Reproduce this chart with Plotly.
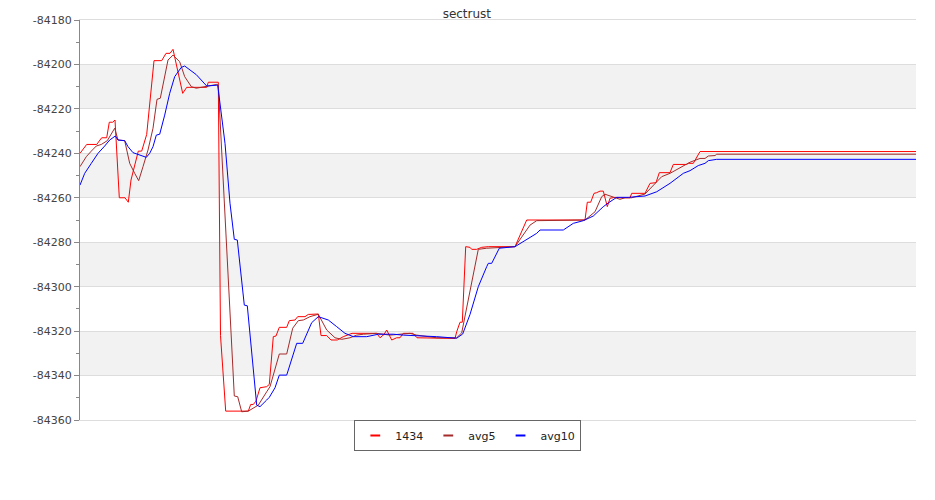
import plotly.graph_objects as go

# x positions are sample positions along the (unlabelled) time axis
t_raw = [0, 6.7, 16.7, 21.7, 26.7, 29.3, 32.7, 35, 39.3, 45, 48.3, 51, 58.3, 61.7, 66.7, 74, 81.7, 86, 90, 93,
         102.7, 106.7, 126.7, 128.3, 138.3, 140.5, 145.7, 168.3, 170.7, 173.3, 176, 180, 186.7, 189.3, 193.3, 196,
         199.3, 206.7, 209.3, 215, 217.7, 225, 228.3, 238.3, 241, 246.7, 251, 257.3, 263.3, 272, 296.7, 300, 304,
         306.7, 311.7, 316.7, 320, 323.3, 333, 337, 375, 376.7, 380, 382.3, 385.7, 390, 391.7, 396.7, 401.7, 408.3,
         435, 446.7, 505, 507.3, 510.7, 514, 516.7, 520, 523.3, 526, 527.3, 530, 535, 540, 550, 551.7, 565, 570,
         576, 579.3, 590, 593.3, 606.7, 608.3, 613.3, 620, 836]
v_raw = [-84240, -84236, -84236, -84233, -84233, -84226, -84226, -84225, -84260, -84260, -84262, -84252, -84239,
         -84239, -84231.5, -84198.3, -84198.3, -84195, -84195, -84193.2, -84213, -84210.3, -84210.3, -84208, -84208,
         -84322, -84356, -84356, -84353, -84353, -84351.5, -84345.5, -84345, -84344, -84322.5, -84322.2, -84318.3,
         -84318.3, -84315.3, -84315, -84313.5, -84313.5, -84312.5, -84312.3, -84322, -84322, -84324, -84324,
         -84322.5, -84321, -84321, -84323, -84321.5, -84319.5, -84324, -84323, -84323, -84321, -84321, -84323,
         -84323.3, -84320.3, -84316, -84316, -84282, -84282.3, -84283.2, -84283.2, -84282.3, -84282, -84282,
         -84270, -84270, -84262, -84262, -84258, -84257.7, -84257, -84257, -84262, -84264, -84260.2, -84259.8,
         -84260, -84260, -84258, -84258, -84253.5, -84253.2, -84248.7, -84248.7, -84245, -84245, -84244.5,
         -84244.5, -84239.2, -84239.2]

t_avg5 = [0, 6.3, 11.3, 16.3, 21.3, 27.3, 34.7, 38, 44.7, 49.7, 54.7, 58.7, 63, 68, 73, 77, 80.3, 84, 88, 93,
          99.7, 104.7, 111.3, 116.3, 126.3, 136.7, 138.3, 154.3, 157.7, 161.7, 168.3, 178.3, 186.7, 190, 199.3,
          206.7, 212.7, 218.3, 223.3, 230, 238.3, 246.7, 255, 261.7, 270, 276.7, 283.3, 296.7, 310, 330, 336.7,
          356.7, 376.7, 381.7, 398.3, 406.7, 435, 441.7, 450, 456.7, 505, 515, 521.7, 525, 533.3, 540, 545, 551.7,
          565, 575, 581.7, 590, 596.7, 610, 620, 625, 628.3, 635, 636.7, 836]
v_avg5 = [-84246, -84241.5, -84239, -84236.7, -84236, -84234.3, -84228.7, -84234, -84234.3, -84244.5, -84249,
          -84252.3, -84246, -84238.5, -84228.7, -84215.7, -84215.2, -84206.2, -84198, -84195.8, -84198.8,
          -84205.5, -84210, -84210.7, -84210, -84209, -84209.3, -84349.2, -84349.5, -84356.3, -84356, -84353.3,
          -84347.3, -84345, -84330.3, -84330.3, -84318.7, -84315.3, -84315, -84313.5, -84312.4, -84319.5, -84323,
          -84323.7, -84323, -84321.8, -84321.4, -84321, -84321.8, -84321, -84321.8, -84323, -84323, -84320.8,
          -84283.2, -84282.7, -84282, -84277.5, -84272.3, -84270.3, -84270, -84266.3, -84259.5, -84258.4,
          -84259.5, -84260.7, -84260, -84260, -84258.3, -84253.5, -84250.5, -84249, -84247.2, -84244, -84242.3,
          -84242.3, -84241.2, -84241, -84240.4, -84240.4]

t_avg10 = [0, 4.7, 11.3, 18, 24.7, 29.7, 35.3, 38, 44.7, 48, 53, 59.7, 66.3, 69.7, 73, 76.3, 79.7, 84.7, 89.7,
           94.7, 101.3, 104.7, 111.3, 116.3, 126.7, 137.7, 145, 150, 154.3, 157.3, 164.3, 167.3, 176.7, 180, 186.7,
           189.3, 195, 199.3, 206.7, 216.7, 222.7, 231.7, 238.3, 248.3, 256.7, 265, 273.3, 286.7, 298.3, 313.3,
           323.3, 336.7, 356.7, 376.7, 382.7, 390, 398.3, 406.7, 408.3, 411.7, 419.3, 435, 441.7, 448.3, 456.7, 460,
           483.3, 493.3, 503.3, 513.3, 523.3, 530, 536.7, 548.3, 565, 576.7, 590, 603.3, 610, 618.3, 625, 628.3,
           636.7, 836]
v_avg10 = [-84254.3, -84249, -84244.5, -84240, -84236.7, -84234, -84232.2, -84234, -84234.3, -84237, -84239.7,
           -84240.8, -84241.8, -84240, -84237, -84231.8, -84231.4, -84222.8, -84213, -84205.5, -84201.3, -84200.7,
           -84202.8, -84204.6, -84209.7, -84209.3, -84235.5, -84262.5, -84278.7, -84279, -84308.3, -84308.6,
           -84353.3, -84354, -84351, -84349.8, -84345.5, -84339.8, -84339.8, -84325.5, -84325.5, -84316.2,
           -84313.5, -84315, -84318, -84321, -84322.5, -84322.5, -84321.4, -84321.4, -84321.8, -84322, -84322.5,
           -84323.2, -84321.3, -84312.5, -84300, -84291, -84289.5, -84289.5, -84282.7, -84282, -84280.2, -84278.2,
           -84276, -84274.5, -84274.5, -84271.5, -84270.3, -84268.2, -84264, -84261.8, -84259.8, -84259.8,
           -84259.2, -84257.3, -84253.5, -84249, -84247.8, -84245.5, -84244.5, -84243.3, -84242.7, -84242.7]

series_names = ["1434", "avg5", "avg10"]
series_colors = ["#ff0000", "#a52a2a", "#0000ff"]

y_ticks = [-84360, -84340, -84320, -84300, -84280, -84260, -84240, -84220, -84200, -84180]
y_tick_labels = ["-84360", "-84340", "-84320", "-84300", "-84280", "-84260", "-84240", "-84220", "-84200", "-84180"]

fig = go.Figure()
for name, tx, vy, col in zip(series_names, [t_raw, t_avg5, t_avg10], [v_raw, v_avg5, v_avg10], series_colors):
    fig.add_trace(go.Scatter(x=tx, y=vy, mode="lines", name=name, showlegend=False,
                             line=dict(color=col, width=1)))
    fig.add_trace(go.Scatter(x=[None], y=[None], mode="markers", name=name, showlegend=True,
                             marker=dict(symbol="line-ew-open", size=7, color=col,
                                         line=dict(color=col, width=2))))

# alternating grey bands
shapes = []
for i in range(1, len(y_ticks) - 1, 2):
    shapes.append(dict(type="rect", xref="paper", yref="y", x0=0, x1=1, y0=y_ticks[i], y1=y_ticks[i + 1],
                       fillcolor="#f2f2f2", line=dict(width=0), layer="below"))

# the page body has an 8px margin, so the figure is sized to fill the remaining window
fig.update_layout(
    width=927, height=492,
    margin=dict(l=72, r=19, t=12, b=80, autoexpand=False),
    paper_bgcolor="white", plot_bgcolor="white",
    font=dict(family="DejaVu Sans", size=11, color="#444"),
    title=dict(text="sectrust", x=0.495, xref="container", xanchor="center", y=0.988, yanchor="middle",
               font=dict(family="DejaVu Sans", size=12, color="#333")),
    shapes=shapes,
    showlegend=True,
    legend=dict(orientation="h", xref="container", x=0.496, xanchor="center", yref="container", y=0.131,
                yanchor="middle", bordercolor="#666", borderwidth=1, bgcolor="white",
                font=dict(family="DejaVu Sans", size=11, color="#222"), itemwidth=30),
    xaxis=dict(range=[0, 836], showticklabels=False, ticks="", showgrid=False, zeroline=False,
               showline=True, mirror=True, linecolor="#dddddd", linewidth=1),
    yaxis=dict(range=[-84360, -84180], tickvals=y_ticks, ticktext=y_tick_labels, ticks="outside", ticklen=5,
               tickcolor="#888", showgrid=True, gridcolor="#dddddd", gridwidth=1, zeroline=False,
               showline=True, linecolor="#888", linewidth=1,
               minor=dict(dtick=10, ticks="outside", ticklen=3, tickcolor="#888", showgrid=False)),
)

fig.write_html("out.html")
